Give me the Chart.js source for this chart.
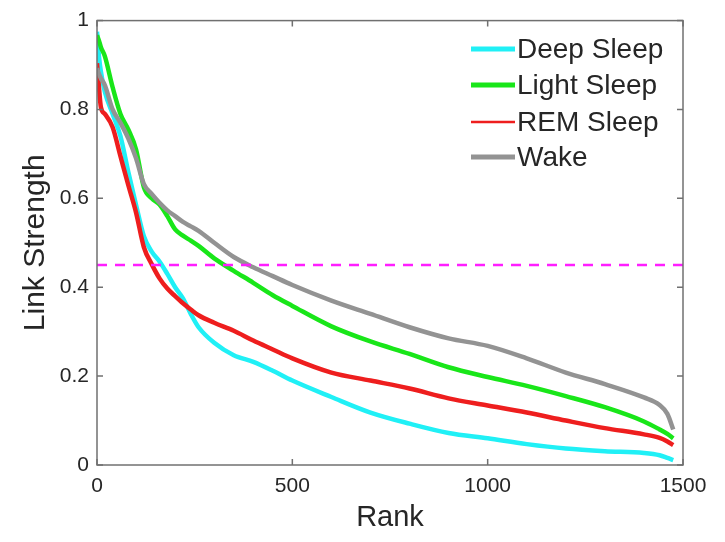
<!DOCTYPE html>
<html>
<head>
<meta charset="utf-8">
<script src="https://cdn.jsdelivr.net/npm/chart.js@4/dist/chart.umd.min.js"></script>
<style>
  html, body { margin: 0; padding: 0; background: #ffffff; }
  #wrap { width: 725px; height: 542px; }
</style>
</head>
<body>
<div id="wrap"><canvas id="c" width="725" height="542"></canvas></div>
<script>
// ---- data ----
const ranks = [0, 5, 10, 20, 40, 60, 80, 100, 120, 140, 160, 180, 200, 220, 240, 260, 300, 350, 400, 450, 500, 600, 700, 800, 900, 1000, 1100, 1200, 1300, 1400, 1440, 1460, 1475];
const deepSleep = [0.975, 0.92, 0.885, 0.84, 0.79, 0.74, 0.66, 0.585, 0.515, 0.48, 0.458, 0.43, 0.40, 0.375, 0.34, 0.31, 0.275, 0.247, 0.232, 0.212, 0.19, 0.153, 0.118, 0.093, 0.072, 0.06, 0.047, 0.037, 0.031, 0.027, 0.022, 0.016, 0.011];
const lightSleep = [0.967, 0.955, 0.94, 0.92, 0.85, 0.79, 0.755, 0.71, 0.625, 0.60, 0.586, 0.56, 0.53, 0.516, 0.505, 0.493, 0.465, 0.437, 0.41, 0.382, 0.358, 0.312, 0.278, 0.25, 0.22, 0.198, 0.178, 0.155, 0.13, 0.098, 0.08, 0.07, 0.06];
const remSleep = [0.904, 0.85, 0.805, 0.79, 0.76, 0.695, 0.63, 0.568, 0.49, 0.452, 0.42, 0.397, 0.38, 0.364, 0.35, 0.337, 0.32, 0.302, 0.28, 0.26, 0.24, 0.208, 0.19, 0.172, 0.15, 0.134, 0.118, 0.10, 0.083, 0.069, 0.061, 0.053, 0.045];
const wake = [0.893, 0.88, 0.87, 0.855, 0.80, 0.77, 0.735, 0.69, 0.632, 0.61, 0.59, 0.573, 0.56, 0.547, 0.537, 0.527, 0.50, 0.468, 0.445, 0.425, 0.405, 0.37, 0.34, 0.31, 0.285, 0.268, 0.24, 0.208, 0.182, 0.152, 0.135, 0.115, 0.08];
const thresholdRanks = [0, 1500];
const thresholdValues = [0.45, 0.45];
const seriesLabels = ['Deep Sleep', 'Light Sleep', 'REM Sleep', 'Wake'];
const xTickValues = [0, 500, 1000, 1500];
const yTickValues = [0, 0.2, 0.4, 0.6, 0.8, 1];
const xTitle = 'Rank';
const yTitle = 'Link Strength';

const toPts = (xs, ys) => xs.map((x, i) => ({ x: x, y: ys[i] }));

const COLORS = ['#20f0f6', '#19e619', '#ee1e1e', '#939393'];
const LEGEND_LW = [5, 5, 2.5, 5];
const TEXT = '#262626';
const AXIS = '#707070';
const FONT = '"Liberation Sans", Arial, Helvetica, sans-serif';

const bgPlugin = {
  id: 'bg',
  beforeDraw(chart) {
    const ctx = chart.ctx;
    ctx.save();
    ctx.fillStyle = '#ffffff';
    ctx.fillRect(0, 0, chart.width, chart.height);
    ctx.restore();
  }
};

const framePlugin = {
  id: 'frame',
  afterDraw(chart) {
    const { ctx, chartArea: a, scales } = chart;
    ctx.save();
    ctx.strokeStyle = AXIS;
    ctx.lineWidth = 1.5;
    ctx.strokeRect(a.left, a.top, a.right - a.left, a.bottom - a.top);
    const tl = 6;
    ctx.beginPath();
    scales.x.ticks.forEach(t => {
      const px = scales.x.getPixelForValue(t.value);
      ctx.moveTo(px, a.bottom); ctx.lineTo(px, a.bottom - tl);
      ctx.moveTo(px, a.top); ctx.lineTo(px, a.top + tl);
    });
    scales.y.ticks.forEach(t => {
      const py = scales.y.getPixelForValue(t.value);
      ctx.moveTo(a.left, py); ctx.lineTo(a.left + tl, py);
      ctx.moveTo(a.right, py); ctx.lineTo(a.right - tl, py);
    });
    ctx.stroke();

    // legend
    const x0 = 471, lineLen = 44, textX = 517;
    const rows = [49, 85, 122, 157];
    ctx.font = '28px ' + FONT;
    ctx.textBaseline = 'middle';
    ctx.textAlign = 'left';
    chart.data.datasets.forEach((ds, i) => {
      if (i >= seriesLabels.length) return;
      const y = rows[i];
      ctx.strokeStyle = ds.borderColor;
      ctx.lineWidth = LEGEND_LW[i];
      ctx.beginPath();
      ctx.moveTo(x0, y); ctx.lineTo(x0 + lineLen, y);
      ctx.stroke();
      ctx.fillStyle = TEXT;
      ctx.fillText(ds.label, textX, y + 1);
    });
    ctx.restore();
  }
};

const lineDs = (label, ys, color, order) => ({
  label: label,
  data: toPts(ranks, ys),
  borderColor: color,
  backgroundColor: color,
  borderWidth: 4.5,
  pointRadius: 0,
  fill: false,
  tension: 0,
  cubicInterpolationMode: 'monotone',
  order: order
});

new Chart(document.getElementById('c'), {
  type: 'line',
  data: {
    datasets: [
      lineDs(seriesLabels[0], deepSleep, COLORS[0], 5),
      lineDs(seriesLabels[1], lightSleep, COLORS[1], 4),
      lineDs(seriesLabels[2], remSleep, COLORS[2], 3),
      lineDs(seriesLabels[3], wake, COLORS[3], 2),
      {
        label: 'threshold',
        data: toPts(thresholdRanks, thresholdValues),
        borderColor: '#ff1eff',
        borderWidth: 2.5,
        borderDash: [10, 8],
        pointRadius: 0,
        fill: false,
        order: 1
      }
    ]
  },
  options: {
    responsive: false,
    animation: false,
    devicePixelRatio: 1,
    layout: { padding: { top: 17, right: 42, bottom: 0, left: 0 } },
    plugins: { legend: { display: false }, tooltip: { enabled: false } },
    scales: {
      x: {
        type: 'linear',
        min: 0, max: 1500,
        afterBuildTicks(s) { s.ticks = xTickValues.map(v => ({ value: v })); },
        afterFit(s) { s.height = 77; },
        grid: { display: false, drawTicks: false },
        border: { display: false },
        ticks: {
          padding: 9,
          color: TEXT,
          font: { family: FONT, size: 21 },
          maxRotation: 0,
          callback: v => String(v)
        },
        title: {
          display: true,
          text: xTitle,
          color: TEXT,
          font: { family: FONT, size: 29 },
          padding: { top: 0, bottom: 7 }
        }
      },
      y: {
        type: 'linear',
        min: 0, max: 1,
        afterBuildTicks(s) { s.ticks = yTickValues.map(v => ({ value: v })); },
        afterFit(s) { s.width = 97; },
        grid: { display: false, drawTicks: false },
        border: { display: false },
        ticks: {
          padding: 8,
          color: TEXT,
          font: { family: FONT, size: 21 },
          callback: v => String(Math.round(v * 10) / 10)
        },
        title: {
          display: true,
          text: yTitle,
          color: TEXT,
          font: { family: FONT, size: 30 },
          padding: { top: 18, bottom: 0 }
        }
      }
    }
  },
  plugins: [bgPlugin, framePlugin]
});
</script>
</body>
</html>
